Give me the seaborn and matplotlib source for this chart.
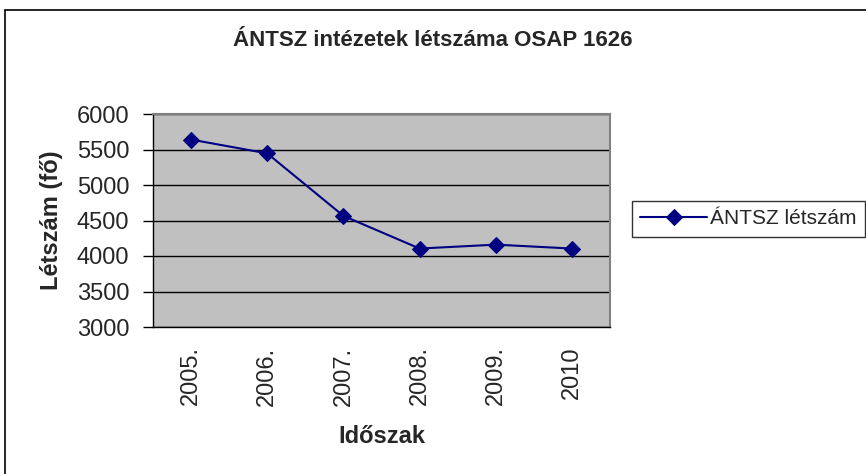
"""
ÁNTSZ intézetek létszáma - line chart
"""

import matplotlib
matplotlib.use("Agg")
import matplotlib.pyplot as plt
import matplotlib.patches as mpatches
from matplotlib.ticker import FixedLocator
import pandas as pd
import seaborn as sns

# Data
years = ["2005.", "2006.", "2007.", "2008.", "2009.", "2010"]
headcount = [5640, 5445, 4565, 4105, 4160, 4105]
y_ticks = [3000, 3500, 4000, 4500, 5000, 5500, 6000]

title = "ÁNTSZ intézetek létszáma OSAP 1626"
series_name = "ÁNTSZ létszám"
x_label = "Időszak"
y_label = "Létszám (fő)"

sns.set_style("white")
plt.rcParams["font.family"] = ["Liberation Sans", "DejaVu Sans"]

df = pd.DataFrame({"pos": range(len(years)), "value": headcount, "series": series_name})

fig = plt.figure(figsize=(8.66, 4.74), dpi=100)
ax = fig.add_axes([153 / 866, 1 - 327 / 474, (610 - 153) / 866, (327 - 114) / 474])

# outer chart border (Excel style)
fig.patches.append(mpatches.Rectangle((5 / 866, -0.02), 1.0, 1 - 10 / 474 + 0.02,
                                      transform=fig.transFigure, fill=False,
                                      edgecolor="black", linewidth=1.2))

ax.set_facecolor("#C0C0C0")
sns.lineplot(data=df, x="pos", y="value", hue="series", palette=["#000080"],
             marker="D", markersize=8.5, markeredgecolor="#000080",
             linewidth=1.5, ax=ax, zorder=3)

ax.set_xlim(-0.5, len(years) - 0.5)
ax.set_ylim(3000, 6000)
ax.set_yticks(y_ticks)
ax.set_yticklabels([str(v) for v in y_ticks], fontsize=17)
ax.yaxis.grid(True, color="black", linewidth=1.0)
ax.set_axisbelow(True)

# category labels in the middle, tick marks between categories
ax.set_xticks(range(len(years)))
ax.set_xticklabels(years, rotation=90, fontsize=17, va="top")
ax.xaxis.set_minor_locator(FixedLocator([i - 0.5 for i in range(len(years) + 1)]))
ax.tick_params(axis="x", which="major", length=0, pad=14)
ax.tick_params(axis="x", which="minor", length=6, width=1, color="black", direction="out")
ax.tick_params(axis="y", length=7, width=1, color="black", direction="out", pad=10)
ax.tick_params(axis="both", bottom=True, left=True)

for side in ["top", "right"]:
    ax.spines[side].set_color("#808080")
    ax.spines[side].set_linewidth(1.5)
for side in ["left", "bottom"]:
    ax.spines[side].set_color("black")
    ax.spines[side].set_linewidth(1.0)

ax.set_xlabel(x_label, fontsize=17, fontweight="bold", labelpad=14)
ax.set_ylabel(y_label, fontsize=17, fontweight="bold", labelpad=10)
fig.text(433 / 866, 1 - 40 / 474, title, fontsize=16, fontweight="bold",
         ha="center", va="center")

leg = ax.legend(loc="center left", bbox_to_anchor=(632 / 866, 1 - 219 / 474),
                bbox_transform=fig.transFigure, fontsize=15, frameon=True,
                fancybox=False, borderpad=0.4, handlelength=3.2,
                handletextpad=0.15, borderaxespad=0, title=None)
leg.get_frame().set_edgecolor("black")
leg.get_frame().set_linewidth(1.0)

fig.savefig("out.png", dpi=100)
plt.close(fig)
